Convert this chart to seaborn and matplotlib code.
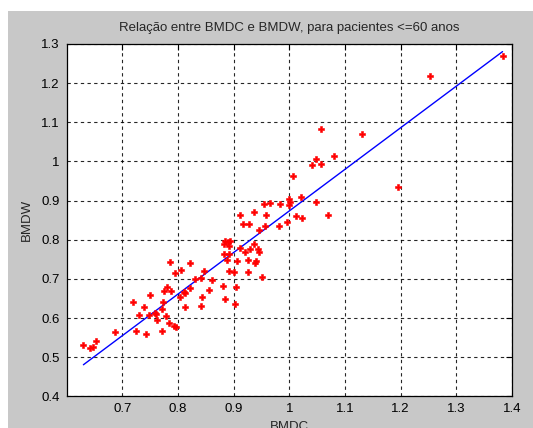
import numpy as np
import pandas as pd
import seaborn as sns
import matplotlib
matplotlib.use("Agg")
import matplotlib.pyplot as plt
from matplotlib.patches import Rectangle

# values
bmdc = [0.630, 0.642, 0.647, 0.652, 0.687,
        0.719, 0.725, 0.730, 0.739, 0.743, 0.747,
        0.762, 0.771, 0.783, 0.793, 0.797,
        0.912, 0.936, 0.958, 0.955, 0.917, 0.928, 0.957, 0.946,
        0.885, 0.890, 0.894, 0.882, 0.892, 0.912, 0.937, 0.921,
        0.930, 0.943, 0.946, 0.882, 0.891, 0.925, 0.940, 0.939,
        0.906, 0.888, 0.786, 0.822, 0.806, 0.794, 0.847, 0.891,
        0.900, 0.926, 0.951, 0.831, 0.841, 0.861, 0.880, 0.904,
        0.780, 0.774, 0.788, 0.822, 0.855, 0.810, 0.813, 0.803,
        0.843, 0.885, 0.773, 0.750, 0.813, 0.841, 0.903, 0.772,
        0.761, 0.779, 0.758,
        1.006, 1.000, 1.001, 0.999, 1.021, 0.984, 0.965, 1.012,
        1.022, 0.982, 0.995,
        1.057, 1.130, 1.080, 1.047, 1.041, 1.057, 1.047, 1.069,
        1.253, 1.383, 1.195]
bmdw = [0.532, 0.524, 0.526, 0.542, 0.563,
        0.642, 0.566, 0.608, 0.629, 0.558, 0.608,
        0.595, 0.568, 0.586, 0.580, 0.578,
        0.863, 0.870, 0.863, 0.892, 0.840, 0.840, 0.836, 0.826,
        0.797, 0.795, 0.798, 0.788, 0.784, 0.780, 0.789, 0.769,
        0.776, 0.776, 0.769, 0.764, 0.764, 0.749, 0.746, 0.741,
        0.745, 0.748, 0.742, 0.740, 0.723, 0.716, 0.721, 0.719,
        0.718, 0.718, 0.705, 0.700, 0.701, 0.697, 0.681, 0.678,
        0.678, 0.669, 0.669, 0.676, 0.671, 0.667, 0.663, 0.654,
        0.654, 0.649, 0.642, 0.659, 0.629, 0.631, 0.635, 0.623,
        0.610, 0.605, 0.614,
        0.964, 0.904, 0.897, 0.889, 0.910, 0.892, 0.895, 0.861,
        0.855, 0.836, 0.846,
        1.084, 1.071, 1.014, 1.005, 0.990, 0.993, 0.897, 0.863,
        1.219, 1.269, 0.935]

x_ticks = [0.7, 0.8, 0.9, 1.0, 1.1, 1.2, 1.3, 1.4]
x_tick_labels = ["0.7", "0.8", "0.9", "1", "1.1", "1.2", "1.3", "1.4"]
y_ticks = [0.4, 0.5, 0.6, 0.7, 0.8, 0.9, 1.0, 1.1, 1.2, 1.3]
y_tick_labels = ["0.4", "0.5", "0.6", "0.7", "0.8", "0.9", "1", "1.1", "1.2", "1.3"]

df = pd.DataFrame({"BMDC": bmdc, "BMDW": bmdw})

# least squares line, drawn over the data points
p = np.polyfit(df["BMDC"], df["BMDW"], 1)
fit = pd.DataFrame({"BMDC": np.sort(df["BMDC"])})
fit["BMDW"] = np.polyval(p, fit["BMDC"])

sns.set_style("white")
plt.rcParams["font.family"] = ["Liberation Sans", "DejaVu Sans"]

fig = plt.figure(figsize=(5.33, 4.28), dpi=100, facecolor="white")
# gray matlab window background (white strip on top and left)
fig.patches.append(Rectangle((8 / 533, 0), 1, (428 - 11) / 428,
                             transform=fig.transFigure, facecolor="#c8c8c8",
                             edgecolor="none", zorder=-10))
ax = fig.add_axes([66.7 / 533, (428 - 396.3) / 428, (512 - 66.7) / 533, (396.3 - 44) / 428])
ax.set_facecolor("white")

sns.lineplot(data=fit, x="BMDC", y="BMDW", color="#0000ff", linewidth=1, ax=ax, zorder=3)
sns.scatterplot(data=df, x="BMDC", y="BMDW", color="#ff0000", marker="P", s=24,
                edgecolor="#ff0000", linewidth=0.4, ax=ax, zorder=4)

ax.set_xlim(0.6, 1.4)
ax.set_ylim(0.4, 1.3)
ax.set_xticks(x_ticks)
ax.set_xticklabels(x_tick_labels)
ax.set_yticks(y_ticks)
ax.set_yticklabels(y_tick_labels)
ax.grid(True, color="black", linestyle=(0, (3, 3)), linewidth=0.8, alpha=0.85)
ax.tick_params(direction="in", length=4, width=0.8, labelsize=9.5, colors="black",
               top=True, right=True, pad=5)
for sp in ax.spines.values():
    sp.set_color("black")
    sp.set_linewidth(0.9)

ax.set_title("Relação entre BMDC e BMDW, para pacientes <=60 anos", fontsize=9.5, pad=9)
ax.set_xlabel("BMDC", fontsize=9.5, labelpad=4)
ax.set_ylabel("BMDW", fontsize=9.5, labelpad=6)

fig.savefig("out.png", dpi=100, facecolor=fig.get_facecolor())
